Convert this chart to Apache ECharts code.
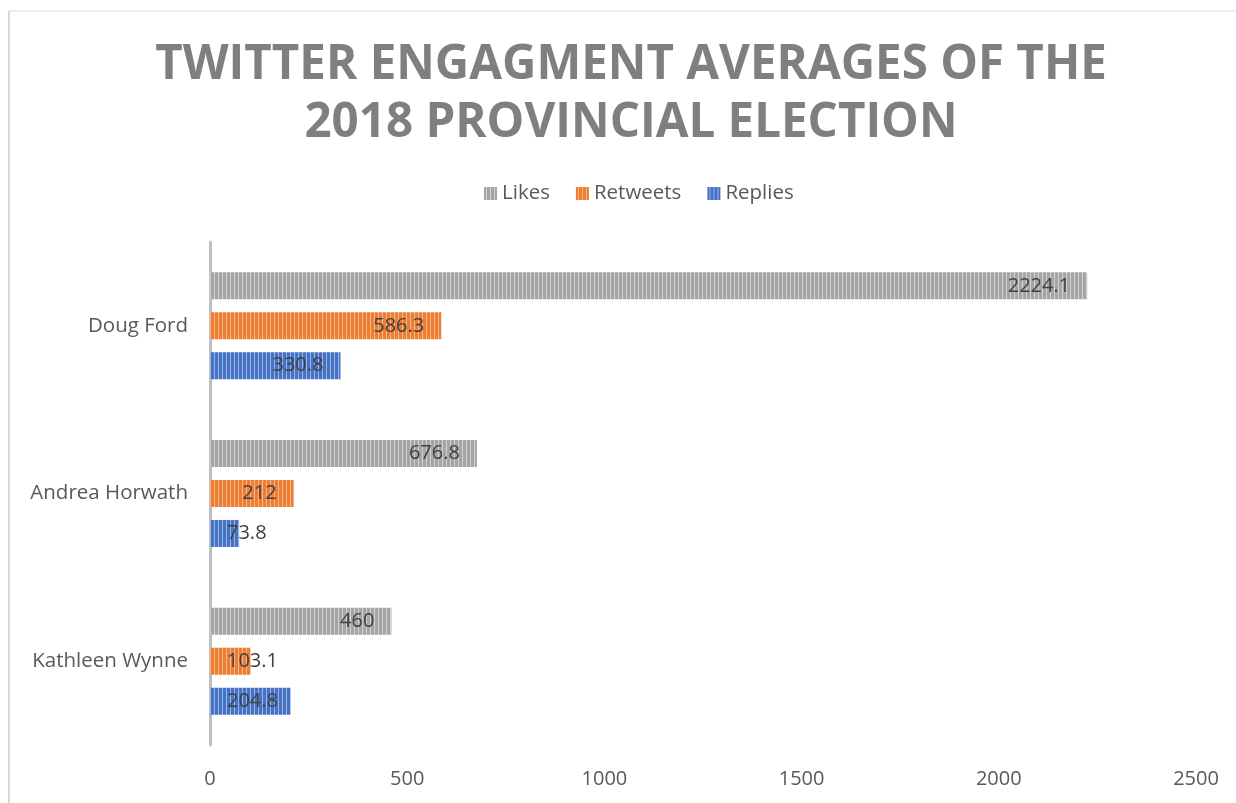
<!DOCTYPE html>
<html>
<head>
<meta charset="utf-8">
<script src="https://cdn.jsdelivr.net/npm/echarts@6/dist/echarts.min.js"></script>
<style>
html,body{margin:0;padding:0;background:#fff;}
#chart{width:1236px;height:803px;}
</style>
</head>
<body>
<div id="chart"></div>
<script>
const categories = ['Doug Ford', 'Andrea Horwath', 'Kathleen Wynne'];
const seriesNames = ['Likes', 'Retweets', 'Replies'];
const likes = [2224.1, 676.8, 460];
const retweets = [586.3, 212, 103.1];
const replies = [330.8, 73.8, 204.8];
const xTicks = [0, 500, 1000, 1500, 2000, 2500];

function stripe(dark, light) {
  const c = document.createElement('canvas');
  c.width = 4; c.height = 4;
  const ctx = c.getContext('2d');
  ctx.fillStyle = dark; ctx.fillRect(0, 0, 4, 4);
  ctx.fillStyle = light; ctx.fillRect(2, 0, 1, 4);
  return { image: c, repeat: 'repeat' };
}
const fills = [
  stripe('#a5a5a5', '#d2d2d2'),
  stripe('#ed7d31', '#f6b88c'),
  stripe('#4472c4', '#9db5e2')
];
const values = [likes, retweets, replies];
const FONT = 'Open Sans';

const chart = echarts.init(document.getElementById('chart'));
chart.setOption({
  animation: false,
  backgroundColor: '#fff',
  title: {
    text: 'TWITTER ENGAGMENT AVERAGES OF THE\n2018 PROVINCIAL ELECTION',
    left: 626,
    textAlign: 'center',
    top: 31,
    textStyle: { fontFamily: FONT, fontWeight: 'bold', fontSize: 47.5, color: '#7f7f7f', lineHeight: 58 }
  },
  legend: {
    data: seriesNames,
    top: 178,
    left: 479,
    itemWidth: 13, itemHeight: 13, itemGap: 26,
    icon: 'rect',
    textStyle: { fontFamily: FONT, fontSize: 20.5, color: '#595959' }
  },
  grid: { left: 210, right: 40, top: 242, bottom: 58, containLabel: false },
  xAxis: {
    type: 'value', min: 0, max: 2500, interval: 500,
    axisLine: { show: false }, axisTick: { show: false },
    splitLine: { show: false },
    axisLabel: { fontFamily: FONT, fontSize: 20, color: '#595959', margin: 24, formatter: v => String(v) }
  },
  yAxis: {
    type: 'category', data: categories, inverse: true,
    axisLine: { show: true, lineStyle: { color: '#bfbfbf', width: 3 } },
    axisTick: { show: false },
    axisLabel: { fontFamily: FONT, fontSize: 20.5, color: '#595959', margin: 22 }
  },
  labelLayout: function (p) {
    const r = p.rect, l = p.labelRect;
    const right = Math.max(r.x + r.width - 17, r.x + 17 + l.width);
    return { x: right, y: r.y + r.height / 2, align: 'right', verticalAlign: 'middle' };
  },
  series: seriesNames.map((n, i) => ({
    name: n, type: 'bar', data: values[i],
    barWidth: 27, barGap: '48%',
    itemStyle: { color: fills[i] },
    label: { show: true, position: 'insideRight', distance: 17, fontFamily: FONT, fontSize: 20, color: '#404040' }
  })),
  graphic: [
    { type: 'line', shape: { x1: 9, y1: 11, x2: 9, y2: 803 }, style: { stroke: '#d9d9d9', lineWidth: 2 } },
    { type: 'line', shape: { x1: 8, y1: 11, x2: 1236, y2: 11 }, style: { stroke: '#d9d9d9', lineWidth: 1 } }
  ]
});
</script>
</body>
</html>
